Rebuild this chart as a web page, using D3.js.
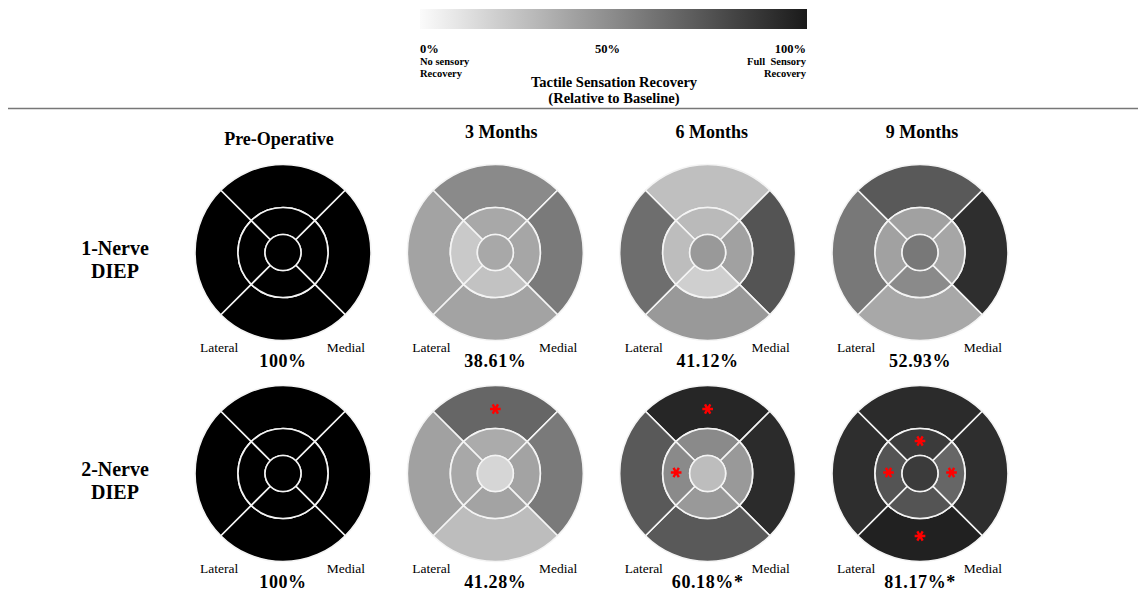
<!DOCTYPE html>
<html>
<head>
<meta charset="utf-8">
<script src="https://cdn.jsdelivr.net/npm/d3@7"></script>
<style>
  html, body { margin: 0; padding: 0; background: #fff; }
  svg { display: block; }
  text { font-family: "Liberation Serif", "Times New Roman", serif; fill: #000; }
</style>
</head>
<body>
<svg id="chart" width="1138" height="598"></svg>
<script>
// ---- data ----
const timepoints = ["Pre-Operative", "3 Months", "6 Months", "9 Months"];
const groupNames = ["1-Nerve", "2-Nerve"];
const groupLabels = [["1-Nerve", "DIEP"], ["2-Nerve", "DIEP"]];
// region order: outer ring (top, right, bottom, left), middle ring (top, right, bottom, left), centre
const regions = ["outerTop", "outerRight", "outerBottom", "outerLeft", "midTop", "midRight", "midBottom", "midLeft", "inner"];
// percent tactile recovery per region, one row per timepoint
const nerve1Values = [
  [100, 100, 100, 100, 100, 100, 100, 100, 100],
  [46, 52, 36, 36, 34, 35, 24, 21, 34],
  [25, 67, 40, 57, 27, 37, 19, 26, 40],
  [65, 82, 34, 53, 37, 35, 46, 37, 53]
];
const nerve2Values = [
  [100, 100, 100, 100, 100, 100, 100, 100, 100],
  [60, 52, 26, 37, 33, 36, 36, 34, 16],
  [85, 83, 65, 65, 46, 40, 40, 46, 26],
  [83, 82, 87, 82, 77, 60, 67, 67, 77]
];
const nerve1Totals = ["100%", "38.61%", "41.12%", "52.93%"];
const nerve2Totals = ["100%", "41.28%", "60.18%*", "81.17%*"];
const nerve1Significant = [[], [], [], []];
const nerve2Significant = [[], ["outerTop"], ["outerTop", "midLeft"], ["midTop", "midLeft", "midRight", "outerBottom"]];
const legendTicks = [0, 50, 100];
const legendTickLabels = ["0%", "50%", "100%"];
const legendSubLabels = [["No sensory", "Recovery"], [], ["Full  Sensory", "Recovery"]];

const groupValues = [nerve1Values, nerve2Values];
const groupTotals = [nerve1Totals, nerve2Totals];
const groupSignificant = [nerve1Significant, nerve2Significant];

// ---- layout ----
const svg = d3.select("#chart");
const x = d3.scalePoint().domain(timepoints).range([283, 920]);
const y = d3.scalePoint().domain(groupNames).range([252.5, 473.5]);
const color = d3.scaleLinear().domain([0, 100]).range(["#ffffff", "#000000"]);

const rInner = 18, rMid = 45, rOuter = 88;
const q = Math.PI / 2;
function regionArc(name) {
  const idx = ["Top", "Right", "Bottom", "Left"];
  if (name === "inner") return { innerRadius: 0, outerRadius: rInner, startAngle: 0, endAngle: 2 * Math.PI };
  const ring = name.startsWith("outer") ? "outer" : "mid";
  const k = idx.indexOf(name.replace(ring, ""));
  return {
    innerRadius: ring === "outer" ? rMid : rInner,
    outerRadius: ring === "outer" ? rOuter : rMid,
    startAngle: -Math.PI / 4 + k * q,
    endAngle: Math.PI / 4 + k * q
  };
}
const arc = d3.arc();

// ---- legend ----
const legendX = d3.scaleLinear().domain([0, 100]).range([420, 807]);
const defs = svg.append("defs");
const grad = defs.append("linearGradient").attr("id", "lg").attr("x1", "0%").attr("x2", "100%");
const legendColor = d3.scaleLinear().domain([0, 100]).range(["#fbfbfb", "#1a1a1a"]);
d3.range(0, 101, 10).forEach(v => grad.append("stop").attr("offset", v + "%").attr("stop-color", legendColor(v)));
svg.append("rect").attr("x", legendX(0)).attr("y", 9).attr("width", legendX(100) - legendX(0)).attr("height", 20).attr("fill", "url(#lg)");

legendTicks.forEach((t, i) => {
  const anchor = i === 0 ? "start" : (i === legendTicks.length - 1 ? "end" : "middle");
  const tx = i === 1 ? legendX(t) - 6 : legendX(t) - (i === 2 ? 1 : 0);
  svg.append("text").attr("x", tx).attr("y", 53).attr("text-anchor", anchor)
    .attr("font-size", 12.5).attr("font-weight", "bold").text(legendTickLabels[i]);
  legendSubLabels[i].forEach((s, j) => {
    svg.append("text").attr("x", tx).attr("y", 65 + j * 12).attr("text-anchor", anchor)
      .attr("font-size", 10.5).attr("font-weight", "bold").style("white-space", "pre").text(s);
  });
});
svg.append("text").attr("x", 614).attr("y", 87).attr("text-anchor", "middle")
  .attr("font-size", 14.5).attr("font-weight", "bold").text("Tactile Sensation Recovery");
svg.append("text").attr("x", 614).attr("y", 103).attr("text-anchor", "middle")
  .attr("font-size", 14.5).attr("font-weight", "bold").text("(Relative to Baseline)");

svg.append("line").attr("x1", 8).attr("x2", 1138).attr("y1", 108.5).attr("y2", 108.5)
  .attr("stroke", "#777").attr("stroke-width", 1.5);

// ---- column titles ----
timepoints.forEach((t, i) => {
  svg.append("text").attr("x", x(t) + (i === 0 ? -4 : 8 - i * 2)).attr("y", i === 0 ? 145 : 137.5)
    .attr("text-anchor", "middle").attr("font-size", 18).attr("font-weight", "bold").text(t);
});

// ---- row labels ----
groupNames.forEach((g, gi) => {
  groupLabels[gi].forEach((l, j) => {
    svg.append("text").attr("x", 115).attr("y", y(g) + 2 + j * 23)
      .attr("text-anchor", "middle").attr("font-size", 20).attr("font-weight", "bold").text(l);
  });
});

// ---- target diagrams ----
groupNames.forEach((g, gi) => {
  timepoints.forEach((t, ti) => {
    const cx = x(t), cy = y(g);
    const panel = svg.append("g").attr("transform", `translate(${cx},${cy})`);
    const vals = groupValues[gi][ti];
    panel.selectAll("path.region").data(regions).join("path")
      .attr("class", "region")
      .attr("d", r => arc(regionArc(r)))
      .attr("fill", (r, i) => color(vals[i]))
      .attr("stroke", "#f4f4f4").attr("stroke-width", 1.6);

    // significance markers
    groupSignificant[gi][ti].forEach(r => {
      const rr = regionArc(r);
      const mid = (rr.innerRadius + rr.outerRadius) / 2 - (r.startsWith("outer") ? 3 : 0);
      const ang = (rr.startAngle + rr.endAngle) / 2;
      panel.append("path")
        .attr("d", d3.symbol(d3.symbolAsterisk, 80)())
        .attr("transform", `translate(${mid * Math.sin(ang)},${-mid * Math.cos(ang) - 1}) rotate(90)`)
        .attr("fill", "none").attr("stroke", "#ff0000").attr("stroke-width", 2.4);
    });

    svg.append("text").attr("x", cx - 83).attr("y", cy + 99).attr("font-size", 13.5).text("Lateral");
    svg.append("text").attr("x", cx + 82).attr("y", cy + 99).attr("text-anchor", "end").attr("font-size", 13.5).text("Medial");
    svg.append("text").attr("x", cx).attr("y", cy + 114).attr("text-anchor", "middle")
      .attr("font-size", 18).attr("font-weight", "bold").attr("letter-spacing", 0.6).text(groupTotals[gi][ti]);
  });
});
</script>
</body>
</html>
